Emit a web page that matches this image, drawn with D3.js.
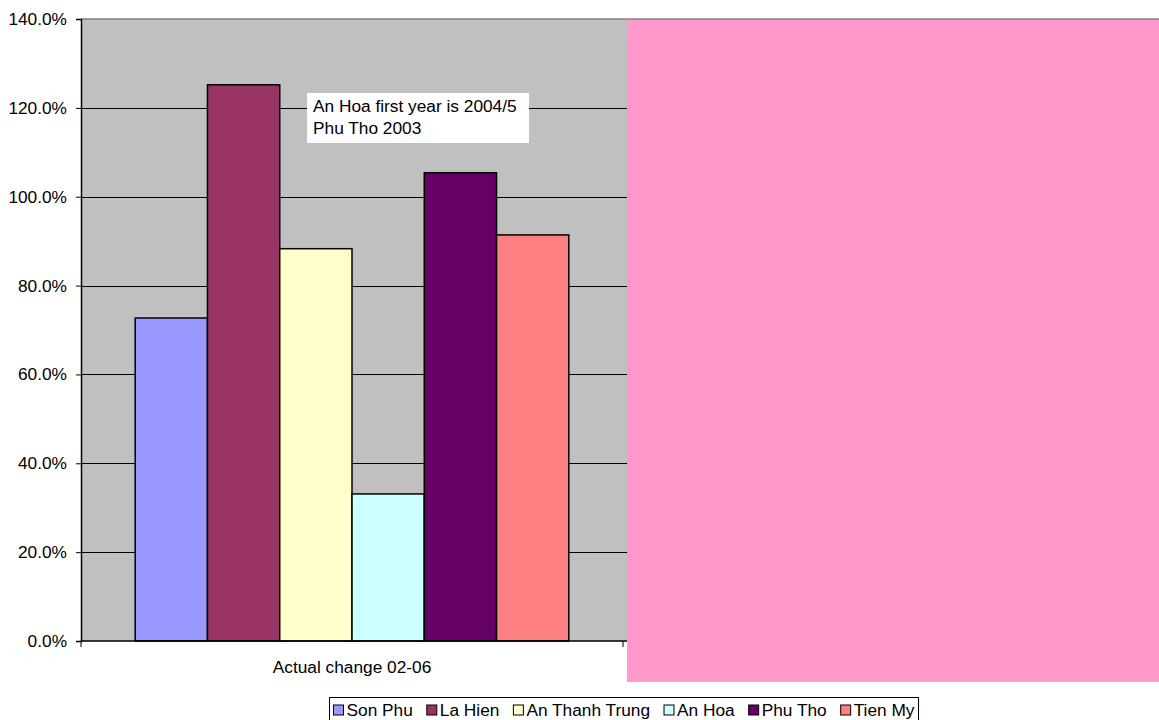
<!DOCTYPE html>
<html>
<head>
<meta charset="utf-8">
<script src="https://cdn.jsdelivr.net/npm/d3@7"></script>
<style>
  body { margin: 0; background: #fff; }
  svg text { font-family: "Liberation Sans", Arial, sans-serif; }
</style>
</head>
<body>
<div id="chart"></div>
<script>
// chart values
const categories = ["Actual change 02-06", ""];
const seriesNames = ["Son Phu", "La Hien", "An Thanh Trung", "An Hoa", "Phu Tho", "Tien My"];
const seriesValues = [0.727, 1.252, 0.883, 0.331, 1.054, 0.914];
const seriesColors = ["#9999FF", "#993366", "#FFFFCC", "#CCFFFF", "#660066", "#FF8080"];
const yTicks = [0, 0.2, 0.4, 0.6, 0.8, 1.0, 1.2, 1.4];
const noteLines = ["An Hoa first year is 2004/5", "Phu Tho 2003"];

const width = 1159;
const height = 720;
const plot = { left: 81, top: 19, right: 1165, bottom: 641 };
const fontSize = 17.3;

const svg = d3.select("#chart")
    .append("svg")
    .attr("width", width)
    .attr("height", height);

const xScale = d3.scaleBand()
    .domain(categories)
    .range([plot.left, plot.right])
    .padding(0);

const yScale = d3.scaleLinear()
    .domain([0, 1.4])
    .range([plot.bottom, plot.top]);

// plot background
svg.append("rect")
    .attr("x", plot.left)
    .attr("y", plot.top)
    .attr("width", plot.right - plot.left)
    .attr("height", plot.bottom - plot.top)
    .attr("fill", "#C0C0C0");

// gridlines (skip 0 and the top one, which is the border)
svg.append("g")
    .selectAll("line")
    .data(yTicks.filter(d => d > 0 && d < 1.4))
    .enter()
    .append("line")
    .attr("x1", plot.left)
    .attr("x2", plot.right)
    .attr("y1", d => Math.round(yScale(d)) + 0.5)
    .attr("y2", d => Math.round(yScale(d)) + 0.5)
    .attr("stroke", "#000")
    .attr("stroke-width", 1);

// top border of the plot area
svg.append("line")
    .attr("x1", plot.left)
    .attr("x2", plot.right)
    .attr("y1", plot.top)
    .attr("y2", plot.top)
    .attr("stroke", "#808080")
    .attr("stroke-width", 1.5);

// bars: gap width 150% -> bars take 6 / 7.5 of the band
const band = xScale.bandwidth();
const gap = band * 1.5 / (seriesNames.length + 1.5);
const inner = d3.scaleBand()
    .domain(seriesNames)
    .range([xScale(categories[0]) + gap / 2, xScale(categories[0]) + band - gap / 2])
    .padding(0);

svg.append("g")
    .selectAll("rect")
    .data(seriesNames.map((name, i) => ({ name, value: seriesValues[i], color: seriesColors[i] })))
    .enter()
    .append("rect")
    .attr("x", d => inner(d.name))
    .attr("y", d => yScale(d.value))
    .attr("width", inner.bandwidth())
    .attr("height", d => yScale(0) - yScale(d.value))
    .attr("fill", d => d.color)
    .attr("stroke", "#000")
    .attr("stroke-width", 1.5);

// y axis
const yAxis = svg.append("g")
    .attr("transform", `translate(${plot.left}, 0)`)
    .call(d3.axisLeft(yScale)
        .tickValues(yTicks)
        .tickFormat(d3.format(".1%"))
        .tickSize(5)
        .tickPadding(9));
yAxis.select(".domain").attr("stroke", "#000").attr("stroke-width", 1.5);
yAxis.selectAll(".tick line").attr("stroke", "#000");
yAxis.selectAll("text")
    .attr("font-size", fontSize)
    .attr("fill", "#000")
    .attr("font-family", "Liberation Sans, Arial, sans-serif");

// x axis
const xAxis = svg.append("g")
    .attr("transform", `translate(0, ${plot.bottom})`);
xAxis.append("line")
    .attr("x1", plot.left)
    .attr("x2", plot.right)
    .attr("stroke", "#000")
    .attr("stroke-width", 1.5);
xAxis.selectAll(".tk")
    .data(categories.map(c => xScale(c)).concat([plot.right]))
    .enter()
    .append("line")
    .attr("class", "tk")
    .attr("x1", d => d)
    .attr("x2", d => d)
    .attr("y1", 0)
    .attr("y2", 6)
    .attr("stroke", "#000");
xAxis.selectAll("text")
    .data(categories)
    .enter()
    .append("text")
    .attr("x", d => xScale(d) + band / 2)
    .attr("y", 32)
    .attr("text-anchor", "middle")
    .attr("font-size", fontSize)
    .attr("fill", "#000")
    .text(d => d);

// note box
const note = svg.append("g").attr("transform", "translate(307, 93)");
note.append("rect")
    .attr("width", 222)
    .attr("height", 50)
    .attr("fill", "#fff");
note.selectAll("text")
    .data(noteLines)
    .enter()
    .append("text")
    .attr("x", 6)
    .attr("y", (d, i) => 19 + i * 22)
    .attr("font-size", fontSize)
    .attr("fill", "#000")
    .text(d => d);

// pink shape covering the empty second category
svg.append("rect")
    .attr("x", xScale(categories[1]) + 4)
    .attr("y", plot.top + 1)
    .attr("width", width - xScale(categories[1]))
    .attr("height", 662)
    .attr("fill", "#FF99CC");

// legend
const legendBox = svg.append("rect")
    .attr("fill", "#fff")
    .attr("stroke", "#000")
    .attr("stroke-width", 1);
const legend = svg.append("g");
const items = legend.selectAll("g")
    .data(seriesNames)
    .enter()
    .append("g");
items.append("rect")
    .attr("width", 10)
    .attr("height", 10)
    .attr("y", -11)
    .attr("fill", (d, i) => seriesColors[i])
    .attr("stroke", "#000")
    .attr("stroke-width", 1);
items.append("text")
    .attr("x", 13)
    .attr("y", 0)
    .attr("font-size", fontSize)
    .attr("fill", "#000")
    .text(d => d);

let cursor = 0;
items.each(function () {
    const w = d3.select(this).select("text").node().getComputedTextLength();
    d3.select(this).attr("transform", `translate(${cursor}, 0)`);
    cursor += 13 + w + 14;
});
const legendWidth = cursor - 14;
const legendLeft = 624 - legendWidth / 2;
legend.attr("transform", `translate(${legendLeft}, 716)`);
legendBox
    .attr("x", legendLeft - 4)
    .attr("y", 697.5)
    .attr("width", legendWidth + 8)
    .attr("height", 30);
</script>
</body>
</html>
